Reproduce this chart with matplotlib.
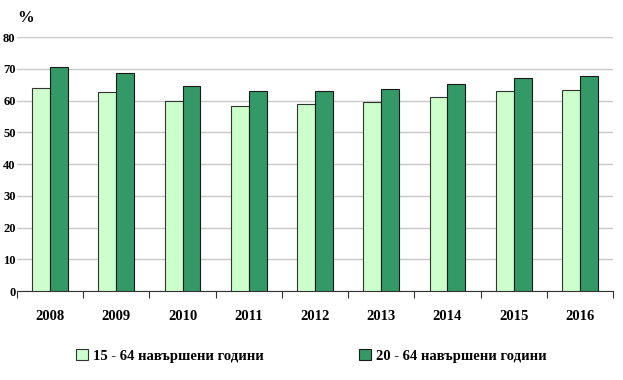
import numpy as np
import matplotlib
matplotlib.use("agg")
import matplotlib.pyplot as plt

years = ["2008", "2009", "2010", "2011", "2012", "2013", "2014", "2015", "2016"]
rate_15_64 = [64.0, 62.6, 59.7, 58.4, 58.8, 59.5, 61.0, 62.9, 63.4]
rate_20_64 = [70.7, 68.8, 64.7, 62.9, 63.0, 63.5, 65.1, 67.1, 67.7]
yticks = [0, 10, 20, 30, 40, 50, 60, 70, 80]
labels = ["15 - 64 навършени години", "20 - 64 навършени години"]

plt.rcParams['font.family'] = ['Liberation Serif', 'DejaVu Serif']

fig = plt.figure(figsize=(6.23, 3.8), dpi=100)
ax = fig.add_axes([17/623, 1 - 291/380, (613-17)/623, (291-37)/380])

x = np.arange(len(years))
w = 0.27
ax.bar(x - w/2, rate_15_64, w, color="#ccffcc", edgecolor="#333333", linewidth=0.8, label=labels[0], zorder=3)
ax.bar(x + w/2, rate_20_64, w, color="#339966", edgecolor="#1a1a1a", linewidth=0.8, label=labels[1], zorder=3)

ax.set_xlim(-0.5, len(years) - 0.5)
ax.set_ylim(0, 80)
ax.set_yticks(yticks)
ax.set_yticklabels([str(v) for v in yticks], fontweight="bold", fontsize=9)
ax.tick_params(axis="y", length=0, pad=1)
ax.yaxis.grid(True, color="#c8c8c8", linewidth=1, zorder=0)

ax.set_xticks(np.arange(len(years) + 1) - 0.5)
ax.set_xticklabels([])
ax.tick_params(axis="x", which="major", length=5, color="#333333", direction="out")
ax.set_xticks(x, minor=True)
ax.set_xticklabels(years, minor=True, fontweight="bold", fontsize=10.5)
ax.tick_params(axis="x", which="minor", length=0, pad=14)

for s in ["left", "top", "right"]:
    ax.spines[s].set_visible(False)
ax.spines["bottom"].set_color("#333333")

fig.text(17/623, 1 - 18/380, "%", fontweight="bold", fontsize=12, va="center")

fig.legend(loc="center", bbox_to_anchor=(0.5, 1 - 356/380), ncol=2, frameon=False,
           prop={"weight": "bold", "size": 10.5}, handlelength=0.8, handleheight=0.8,
           columnspacing=6.5, handletextpad=0.4)

fig.savefig("out.png", dpi=100)
